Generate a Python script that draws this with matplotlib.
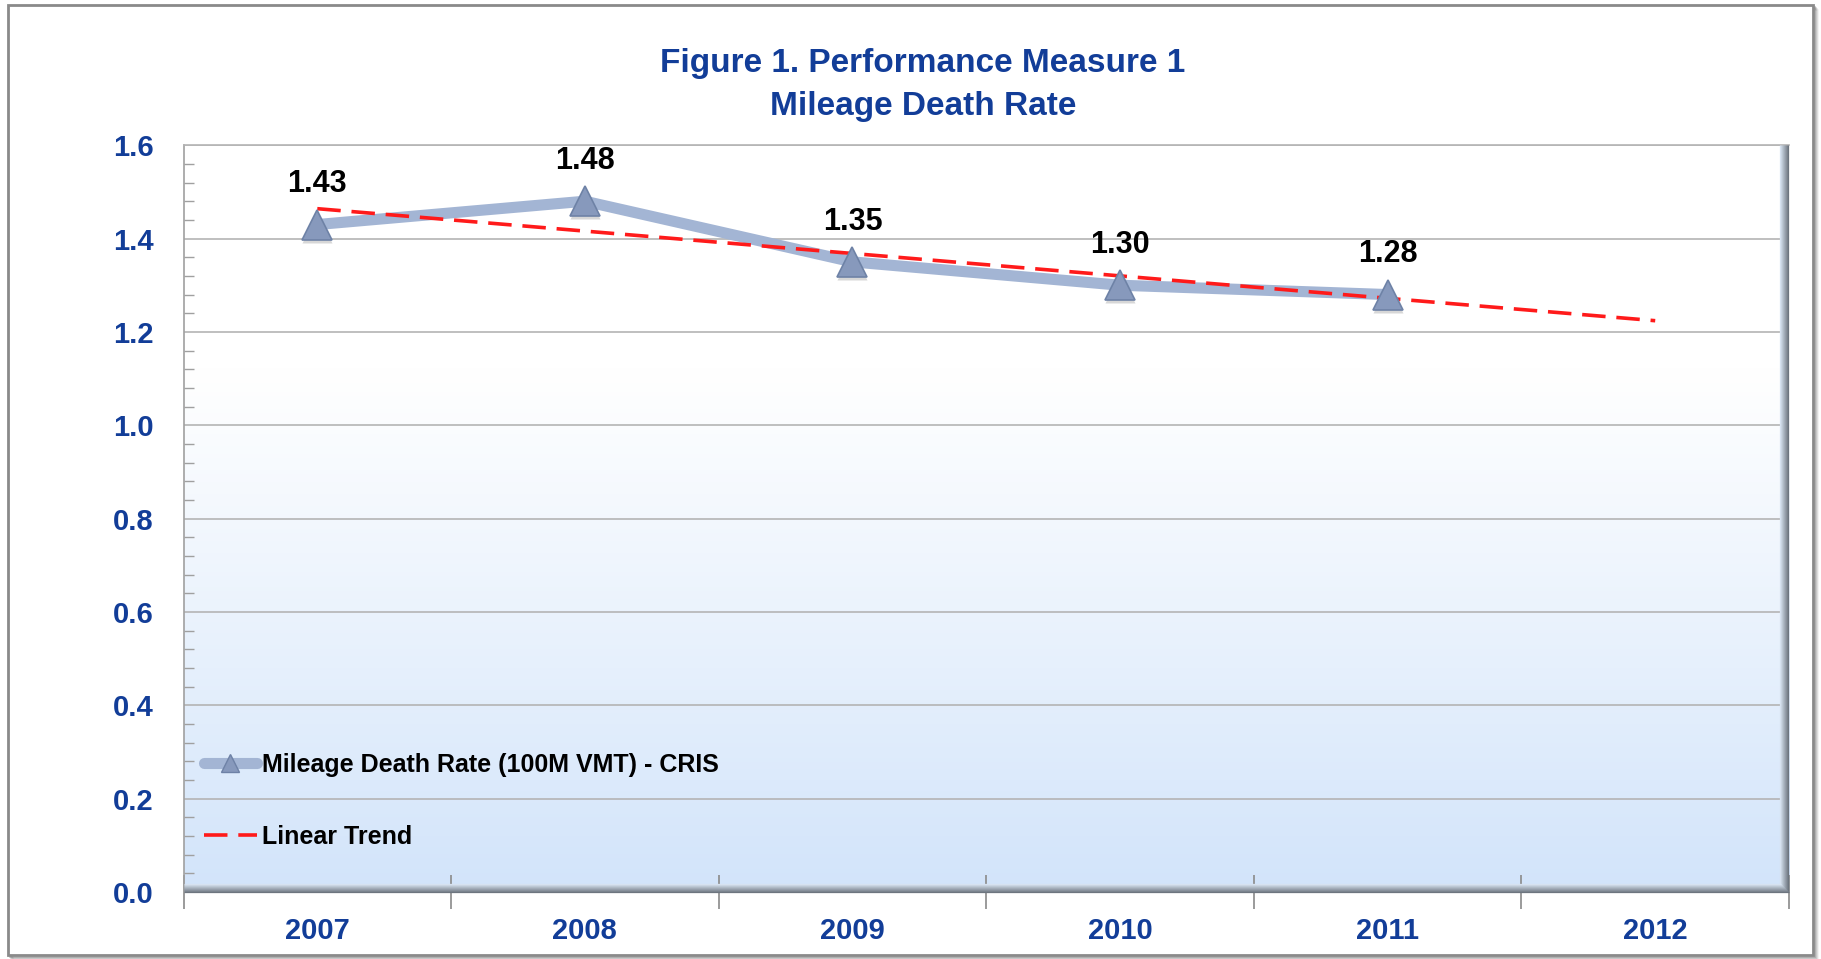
import numpy as np
import matplotlib
matplotlib.use("Agg")
import matplotlib.pyplot as plt
from matplotlib.patches import Rectangle
from matplotlib.lines import Line2D
from matplotlib.ticker import MultipleLocator, FixedLocator

# ---- data ----
years = ["2007", "2008", "2009", "2010", "2011", "2012"]
rate_years = ["2007", "2008", "2009", "2010", "2011"]
rates = [1.43, 1.48, 1.35, 1.30, 1.28]
rate_labels = ["1.43", "1.48", "1.35", "1.30", "1.28"]
series_name = "Mileage Death Rate (100M VMT) - CRIS"
trend_name = "Linear Trend"
title_lines = ["Figure 1. Performance Measure 1", "Mileage Death Rate"]
yticks = [0.0, 0.2, 0.4, 0.6, 0.8, 1.0, 1.2, 1.4, 1.6]

plt.rcParams['font.family'] = ['Liberation Sans', 'DejaVu Sans']
BLUE = '#123d98'

W, H = 1821, 959
fig = plt.figure(figsize=(W / 100, H / 100), dpi=100)
fig.patch.set_facecolor('white')

# outer frame with shadow
for i, a in enumerate([0.35, 0.25, 0.15, 0.08]):
    fig.add_artist(Rectangle(((8 + 2 + i) / W, (H - 955 - 2 - i) / H), (1805) / W, (950) / H,
                             transform=fig.transFigure, fill=False,
                             edgecolor=(0.3, 0.3, 0.3, a), lw=1.2, zorder=-2))
fig.add_artist(Rectangle((8 / W, (H - 955) / H), 1805 / W, 950 / H,
                         transform=fig.transFigure, facecolor='white',
                         edgecolor='#8a8a8a', lw=2, zorder=-1))

ax_l, ax_r, ax_t, ax_b = 183.5, 1789.0, 145.2, 892.0
AW, AH = ax_r - ax_l, ax_b - ax_t
ax = fig.add_axes([ax_l / W, 1 - ax_b / H, AW / W, AH / H])
ax.set_zorder(2)
ax.set_facecolor('none')

n = len(years)
x_all = np.arange(n)
x_rate = np.array([years.index(y) for y in rate_years])

ax.set_xlim(-0.5, n - 0.5)
ax.set_ylim(0, 1.6)

# gradient background
t = np.linspace(0, 1, 512)[:, None]  # 0 top -> 1 bottom
top = np.array([1.0, 1.0, 1.0])
bot = np.array([0xd2, 0xe4, 0xfa]) / 255.0
w = np.clip((t - 0.30) / 0.70, 0, 1) ** 1.05
grad = top[None, None, :] * (1 - w[..., None]) + bot[None, None, :] * w[..., None]
grad = np.repeat(grad, 2, axis=1)
ax.imshow(grad, extent=[0, 1, 0, 1], transform=ax.transAxes, aspect='auto', zorder=0.5,
          interpolation='bicubic')

# gridlines
ax.yaxis.set_major_locator(FixedLocator(yticks))
ax.yaxis.set_minor_locator(MultipleLocator(0.04))
ax.grid(axis='y', which='major', color='#b4b4b4', lw=1.2, zorder=1)
ax.set_axisbelow(True)

# spines / bevel
for s in ['top', 'right', 'left', 'bottom']:
    ax.spines[s].set_visible(False)
ax.plot([0, 0], [0, 1], transform=ax.transAxes, color='#a0a0a0', lw=1.2, clip_on=False, zorder=3)
ax.plot([0, 1], [1, 1], transform=ax.transAxes, color='#b4b4b4', lw=1.2, clip_on=False, zorder=3)

dark = np.array([0x6c, 0x74, 0x7e]) / 255.0
light = np.array([0xd6, 0xe2, 0xf0]) / 255.0
nb = 9
for k in range(nb):
    f = k / (nb - 1)
    c = dark * (1 - f) + light * f
    yy = (k + 0.5) / AH
    ax.plot([0, 1 - (k) / AW], [yy, yy], transform=ax.transAxes, color=c, lw=0.9,
            clip_on=False, zorder=3, solid_capstyle='butt')
    xx = 1 - (k + 0.5) / AW
    ax.plot([xx, xx], [k / AH, 1], transform=ax.transAxes, color=c, lw=0.9,
            clip_on=False, zorder=3, solid_capstyle='butt')

# ticks
ax.set_yticks(yticks)
ax.set_yticklabels([f"{v:.1f}" for v in yticks])
ax.tick_params(axis='y', which='major', length=0, pad=21.5, labelsize=21, labelcolor=BLUE)
ax.tick_params(axis='y', which='minor', direction='in', length=7, color='#a0a0a0', width=1)
for lab in ax.get_yticklabels():
    lab.set_fontweight('bold')

ax.set_xticks(x_all)
ax.set_xticklabels(years)
ax.tick_params(axis='x', which='major', length=0, pad=18, labelsize=21, labelcolor=BLUE)
for lab in ax.get_xticklabels():
    lab.set_fontweight('bold')
ax.set_xticks(np.arange(-0.5, n, 1.0), minor=True)
ax.tick_params(axis='x', which='minor', direction='inout', length=24, color='#8a8a8a', width=1.2)

# trend line (least squares over the data)
coef = np.polyfit(x_rate, rates, 1)
trend = np.polyval(coef, x_all)
ax.plot(x_all, trend, color='#ff1a1a', lw=2.6, dashes=(6.5, 3), zorder=5, label=trend_name)

# series
ax.plot(x_rate, rates, color='#a3b5d4', lw=8, zorder=4, solid_capstyle='round',
        solid_joinstyle='round')
# marker shadow
ax.plot(x_rate, np.array(rates) - 0.007, linestyle='none', marker='^', markersize=22,
        markerfacecolor=(0.3, 0.3, 0.3, 0.22), markeredgecolor='none', zorder=5)
ax.plot(x_rate, rates, linestyle='none', marker='^', markersize=21,
        markerfacecolor='#8799bc', markeredgecolor='#6e82a6', markeredgewidth=1.2, zorder=6)

for xi, v, s in zip(x_rate, rates, rate_labels):
    ax.annotate(s, (xi, v), xytext=(0, 29), textcoords='offset points', ha='center',
                va='center', fontsize=22, fontweight='bold', color='black', zorder=7)

# legend
h1 = Line2D([], [], color='#a3b5d4', lw=8, marker='^', markersize=13,
            markerfacecolor='#8799bc', markeredgecolor='#6e82a6', solid_capstyle='round')
h2 = Line2D([], [], color='#ff1a1a', lw=2.6, dashes=(6.5, 3))
leg = ax.legend([h1, h2], [series_name, trend_name], loc='lower left',
                bbox_to_anchor=(0.0125, 0.058), borderaxespad=0, borderpad=0,
                frameon=False, handlelength=2.15, handletextpad=0.2, labelspacing=1.9,
                prop={'size': 18, 'weight': 'bold'})
for txt in leg.get_texts():
    txt.set_color('black')

# title
fig.text(923 / W, 1 - 63.5 / H, title_lines[0], ha='center', va='center', fontsize=24,
         fontweight='bold', color=BLUE)
fig.text(923 / W, 1 - 106.5 / H, title_lines[1], ha='center', va='center', fontsize=24,
         fontweight='bold', color=BLUE)

fig.savefig('out.png', dpi=100, facecolor='white')
